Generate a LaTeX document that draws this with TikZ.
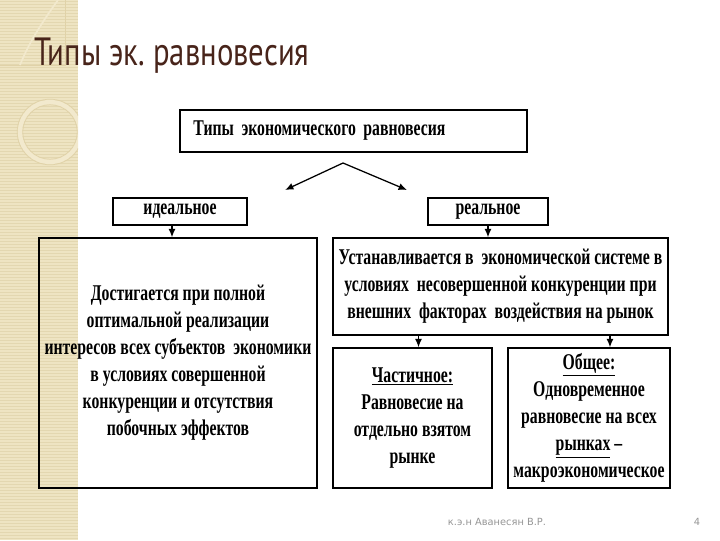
\documentclass[tikz,border=0pt]{standalone}
\usepackage{fontspec}
\setmainfont{Liberation Serif}
\newfontfamily\titlefont[FakeStretch=0.78]{PT Sans}
\newfontfamily\boxfont[FakeStretch=0.7]{Liberation Serif}
\newfontfamily\footfont{DejaVu Sans}
\usetikzlibrary{positioning,arrows.meta,calc}
\frenchspacing

\definecolor{stripbg}{RGB}{238,228,194}
\definecolor{stripln}{RGB}{227,215,176}
\definecolor{ringlt}{RGB}{242,233,205}
\definecolor{ringdk}{RGB}{224,210,168}
\definecolor{titlecol}{RGB}{72,36,26}
\definecolor{footcol}{RGB}{150,150,150}

\begin{document}
\begin{tikzpicture}[
  x=0.025cm,y=-0.025cm,
  box/.style={rectangle,draw,line width=1pt,align=center,inner sep=2pt,
    font=\boxfont\bfseries\fontsize{16}{19.2}\selectfont},
  arr/.style={-{Latex[length=6pt,width=5pt]},line width=0.9pt},
]
\useasboundingbox (0,0) rectangle (720,540);
\fill[white] (0,0) rectangle (720,540);

% left strip
\fill[stripbg] (0,0) rectangle (78,540);
\foreach \yy in {1,4,...,540}
  \draw[stripln,line width=0.4pt] (0,\yy) -- (78,\yy);
\draw[ringdk,line width=0.5pt] (0,65) -- (65,65) -- (65,0);
\draw[ringlt,line width=1.2pt] (58,0) .. controls (40,25) and (28,45) .. (20,65);
\begin{scope}
  \clip (0,0) rectangle (78,540);
  \draw[ringlt,line width=3pt] (50,132) circle[radius=0.75cm];
  \draw[ringdk,line width=0.5pt] (50,132) circle[radius=0.82cm];
  \draw[ringdk,line width=0.5pt] (50,132) circle[radius=0.68cm];
\end{scope}

% title
\node[font=\titlefont\fontsize{28}{32}\selectfont,text=titlecol,anchor=base west,inner sep=0] (title) at (34,65) {Типы эк. равновесия};

% top level
\node[box,minimum width=8.675cm,minimum height=1.05cm,text width=8.0cm,align=left] (types) at (353.5,131) {Типы экономического равновесия};
\coordinate (fork) at (343,163);
\coordinate (forkl) at (285,190);
\coordinate (forkr) at (407,190);
\draw[arr] (fork) -- (forkl);
\draw[arr] (fork) -- (forkr);

% ideal / real
\node[box,minimum width=3.35cm,minimum height=0.675cm] (ideal) at (180,211.5) {идеальное};
\node[box,minimum width=3.0cm,minimum height=0.675cm] (real) at (488,211.5) {реальное};

\node[box,minimum width=6.95cm,minimum height=6.25cm] (lbox) at (178,363) {Достигается при полной\\оптимальной реализации\\интересов всех субъектов\ \ экономики\\в условиях совершенной\\конкуренции и отсутствия\\побочных эффектов};
\node[box,minimum width=8.375cm,minimum height=2.425cm] (rtop) at (500.5,286.5) {Устанавливается в\ \ экономической системе в\\условиях\ \ несовершенной конкуренции при\\внешних\ \ факторах\ \ воздействия на рынок};

\coordinate (idealdrop) at ($(ideal.south)+(-8,0)$);
\draw[arr] (idealdrop) -- (idealdrop |- lbox.north);
\draw[arr] (real.south) -- (real.south |- rtop.north);

% partial / general
\node[box,minimum width=3.975cm,minimum height=3.5cm] (part) at (412.5,418) {\underline{Частичное:}\\Равновесие на\\отдельно взятом\\рынке};
\node[box,minimum width=4.05cm,minimum height=3.5cm] (gen) at (589,418) {\underline{Общее:}\\Одновременное\\равновесие на всех\\\underline{рынках} –\\макроэкономическое};

\coordinate (partdrop) at ($(part.north)+(6,0)$);
\coordinate (gendrop) at ($(gen.north)+(21,0)$);
\draw[arr] (rtop.south -| partdrop) -- (partdrop);
\draw[arr] (rtop.south -| gendrop) -- (gendrop);

% footer
\node[font=\footfont\fontsize{7}{9}\selectfont,text=footcol] (author) at (497,522) {к.э.н Аванесян В.Р.};
\node[font=\footfont\fontsize{7}{9}\selectfont,text=footcol] (page) at (697,522) {4};
\end{tikzpicture}
\end{document}
